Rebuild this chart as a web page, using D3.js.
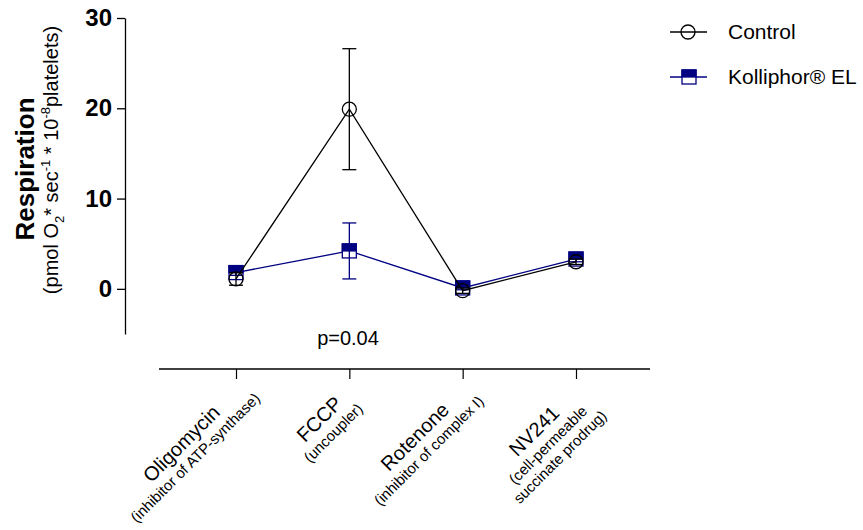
<!DOCTYPE html>
<html lang="en">
<head>
<meta charset="utf-8">
<script src="https://d3js.org/d3.v7.min.js"></script>
<title>Respiration</title>
<style>
  body{margin:0;background:#fff;}
  svg{font-family:"Liberation Sans",Arial,sans-serif;}
</style>
</head>
<body>
<script>

// Data

var categories=["Oligomycin","FCCP","Rotenone","NV241"];
var subLabels=[["(inhibitor of ATP-synthase)"],["(uncoupler)"],["(inhibitor of complex I)"],["(cell-permeable","succinate prodrug)"]];
var controlMean=[1.1,19.9,-0.2,3.0];
var controlSem=[0.7,6.7,0.3,0.3];
var kolliMean=[1.8,4.2,0.1,3.3];
var kolliSem=[0.3,3.1,0.2,0.3];
var yTicks=[0,10,20,30];
var seriesNames=["Control","Kolliphor® EL"];
var pText="p=0.04";

var width=863, height=530;
var navy="#000080";

var svg=d3.select("body").append("svg").attr("width",width).attr("height",height);

// Scales

var x=d3.scalePoint().domain(categories).range([236,576]);
var y=d3.scaleLinear().domain([-5,30]).range([334,18]);

// Y axis

var yAxis=d3.axisLeft(y).tickValues(yTicks).tickSize(8).tickPadding(5).tickSizeOuter(0);
var gy=svg.append("g").attr("transform","translate(125,0)").call(yAxis);
gy.selectAll("path,line").attr("stroke","#000").attr("stroke-width",1.3);
gy.selectAll("text").attr("font-size",24).attr("font-weight","bold").attr("fill","#000")
  .attr("font-family","Liberation Sans,Arial,sans-serif");

// X axis (separate baseline)

var gx=svg.append("g").attr("transform","translate(0,369)")
  .call(d3.axisBottom(x).tickSize(10).tickFormat(""));
gx.select(".domain").remove();
gx.selectAll("line").attr("stroke","#000").attr("stroke-width",1.2);
gx.append("line").attr("x1",159).attr("x2",650).attr("stroke","#000").attr("stroke-width",1.4);

// rotated category labels, lines centred on each other
categories.forEach(function(c,i){
  var g=svg.append("g").attr("transform","translate("+x(c)+",379) rotate(-45)");
  var texts=[];
  texts.push(g.append("text").attr("y",14).attr("font-size",20).text(c));
  subLabels[i].forEach(function(s,j){
    texts.push(g.append("text").attr("y",32+j*17).attr("font-size",15).text(s));
  });
  var w=d3.max(texts,function(t){return t.node().getComputedTextLength();});
  texts.forEach(function(t){ t.attr("text-anchor","middle").attr("x",-23-0.35*w); });
});

// Y title

svg.append("text").attr("transform","translate(34,169) rotate(-90)")
  .attr("text-anchor","middle").attr("font-size",26).attr("font-weight","bold").text("Respiration");

var t2=svg.append("text").attr("transform","translate(58,160) rotate(-90)")
  .attr("text-anchor","middle").attr("font-size",20);
t2.append("tspan").text("(pmol O");
t2.append("tspan").attr("dy",6).attr("font-size",13).text("2");
t2.append("tspan").attr("dy",-6).text("* sec");
t2.append("tspan").attr("dy",-8).attr("font-size",13).text("-1");
t2.append("tspan").attr("dy",8).text(" * 10");
t2.append("tspan").attr("dy",-8).attr("font-size",13).text("-8");
t2.append("tspan").attr("dy",8).text("platelets)");

// Series

var line=d3.line().x(function(d,i){return x(categories[i]);}).y(function(d){return y(d);});

function errorBars(means,sems,color){
  var g=svg.append("g").attr("stroke",color).attr("stroke-width",1.3);
  means.forEach(function(m,i){
    var cx=x(categories[i]);
    g.append("line").attr("x1",cx).attr("x2",cx).attr("y1",y(m-sems[i])).attr("y2",y(m+sems[i]));
    g.append("line").attr("x1",cx-7).attr("x2",cx+7).attr("y1",y(m-sems[i])).attr("y2",y(m-sems[i]));
    g.append("line").attr("x1",cx-7).attr("x2",cx+7).attr("y1",y(m+sems[i])).attr("y2",y(m+sems[i]));
  });
}

function halfSquare(g,cx,cy){
  g.append("rect").attr("x",cx-7).attr("y",cy-7).attr("width",14).attr("height",14)
    .attr("fill","#fff").attr("stroke",navy).attr("stroke-width",1.3);
  g.append("rect").attr("x",cx-7).attr("y",cy-7).attr("width",14).attr("height",7)
    .attr("fill",navy).attr("stroke",navy).attr("stroke-width",1.3);
}

function circleMark(g,cx,cy){
  g.append("circle").attr("cx",cx).attr("cy",cy).attr("r",7)
    .attr("fill","none").attr("stroke","#000").attr("stroke-width",1.3);
}

// Kolliphor
svg.append("path").datum(kolliMean).attr("d",line).attr("fill","none").attr("stroke",navy).attr("stroke-width",1.3);
var gk=svg.append("g");
kolliMean.forEach(function(m,i){ halfSquare(gk,x(categories[i]),y(m)); });
errorBars(kolliMean,kolliSem,navy);

// Control
svg.append("path").datum(controlMean).attr("d",line).attr("fill","none").attr("stroke","#000").attr("stroke-width",1.3);
var gc=svg.append("g");
controlMean.forEach(function(m,i){ circleMark(gc,x(categories[i]),y(m)); });
errorBars(controlMean,controlSem,"#000");

// p value
svg.append("text").attr("x",348).attr("y",345).attr("text-anchor","middle").attr("font-size",20).text(pText);

// Legend

var legend=svg.append("g");
var l1=legend.append("g").attr("transform","translate(0,32)");
l1.append("line").attr("x1",670).attr("x2",707).attr("stroke","#000").attr("stroke-width",1.3);
circleMark(l1,688,0);
l1.append("text").attr("x",728).attr("y",7).attr("font-size",21).text(seriesNames[0]);

var l2=legend.append("g").attr("transform","translate(0,77)");
l2.append("line").attr("x1",670).attr("x2",707).attr("stroke",navy).attr("stroke-width",1.3);
halfSquare(l2,689,0);
l2.append("text").attr("x",728).attr("y",7).attr("font-size",21).text(seriesNames[1]);

</script>
</body>
</html>
